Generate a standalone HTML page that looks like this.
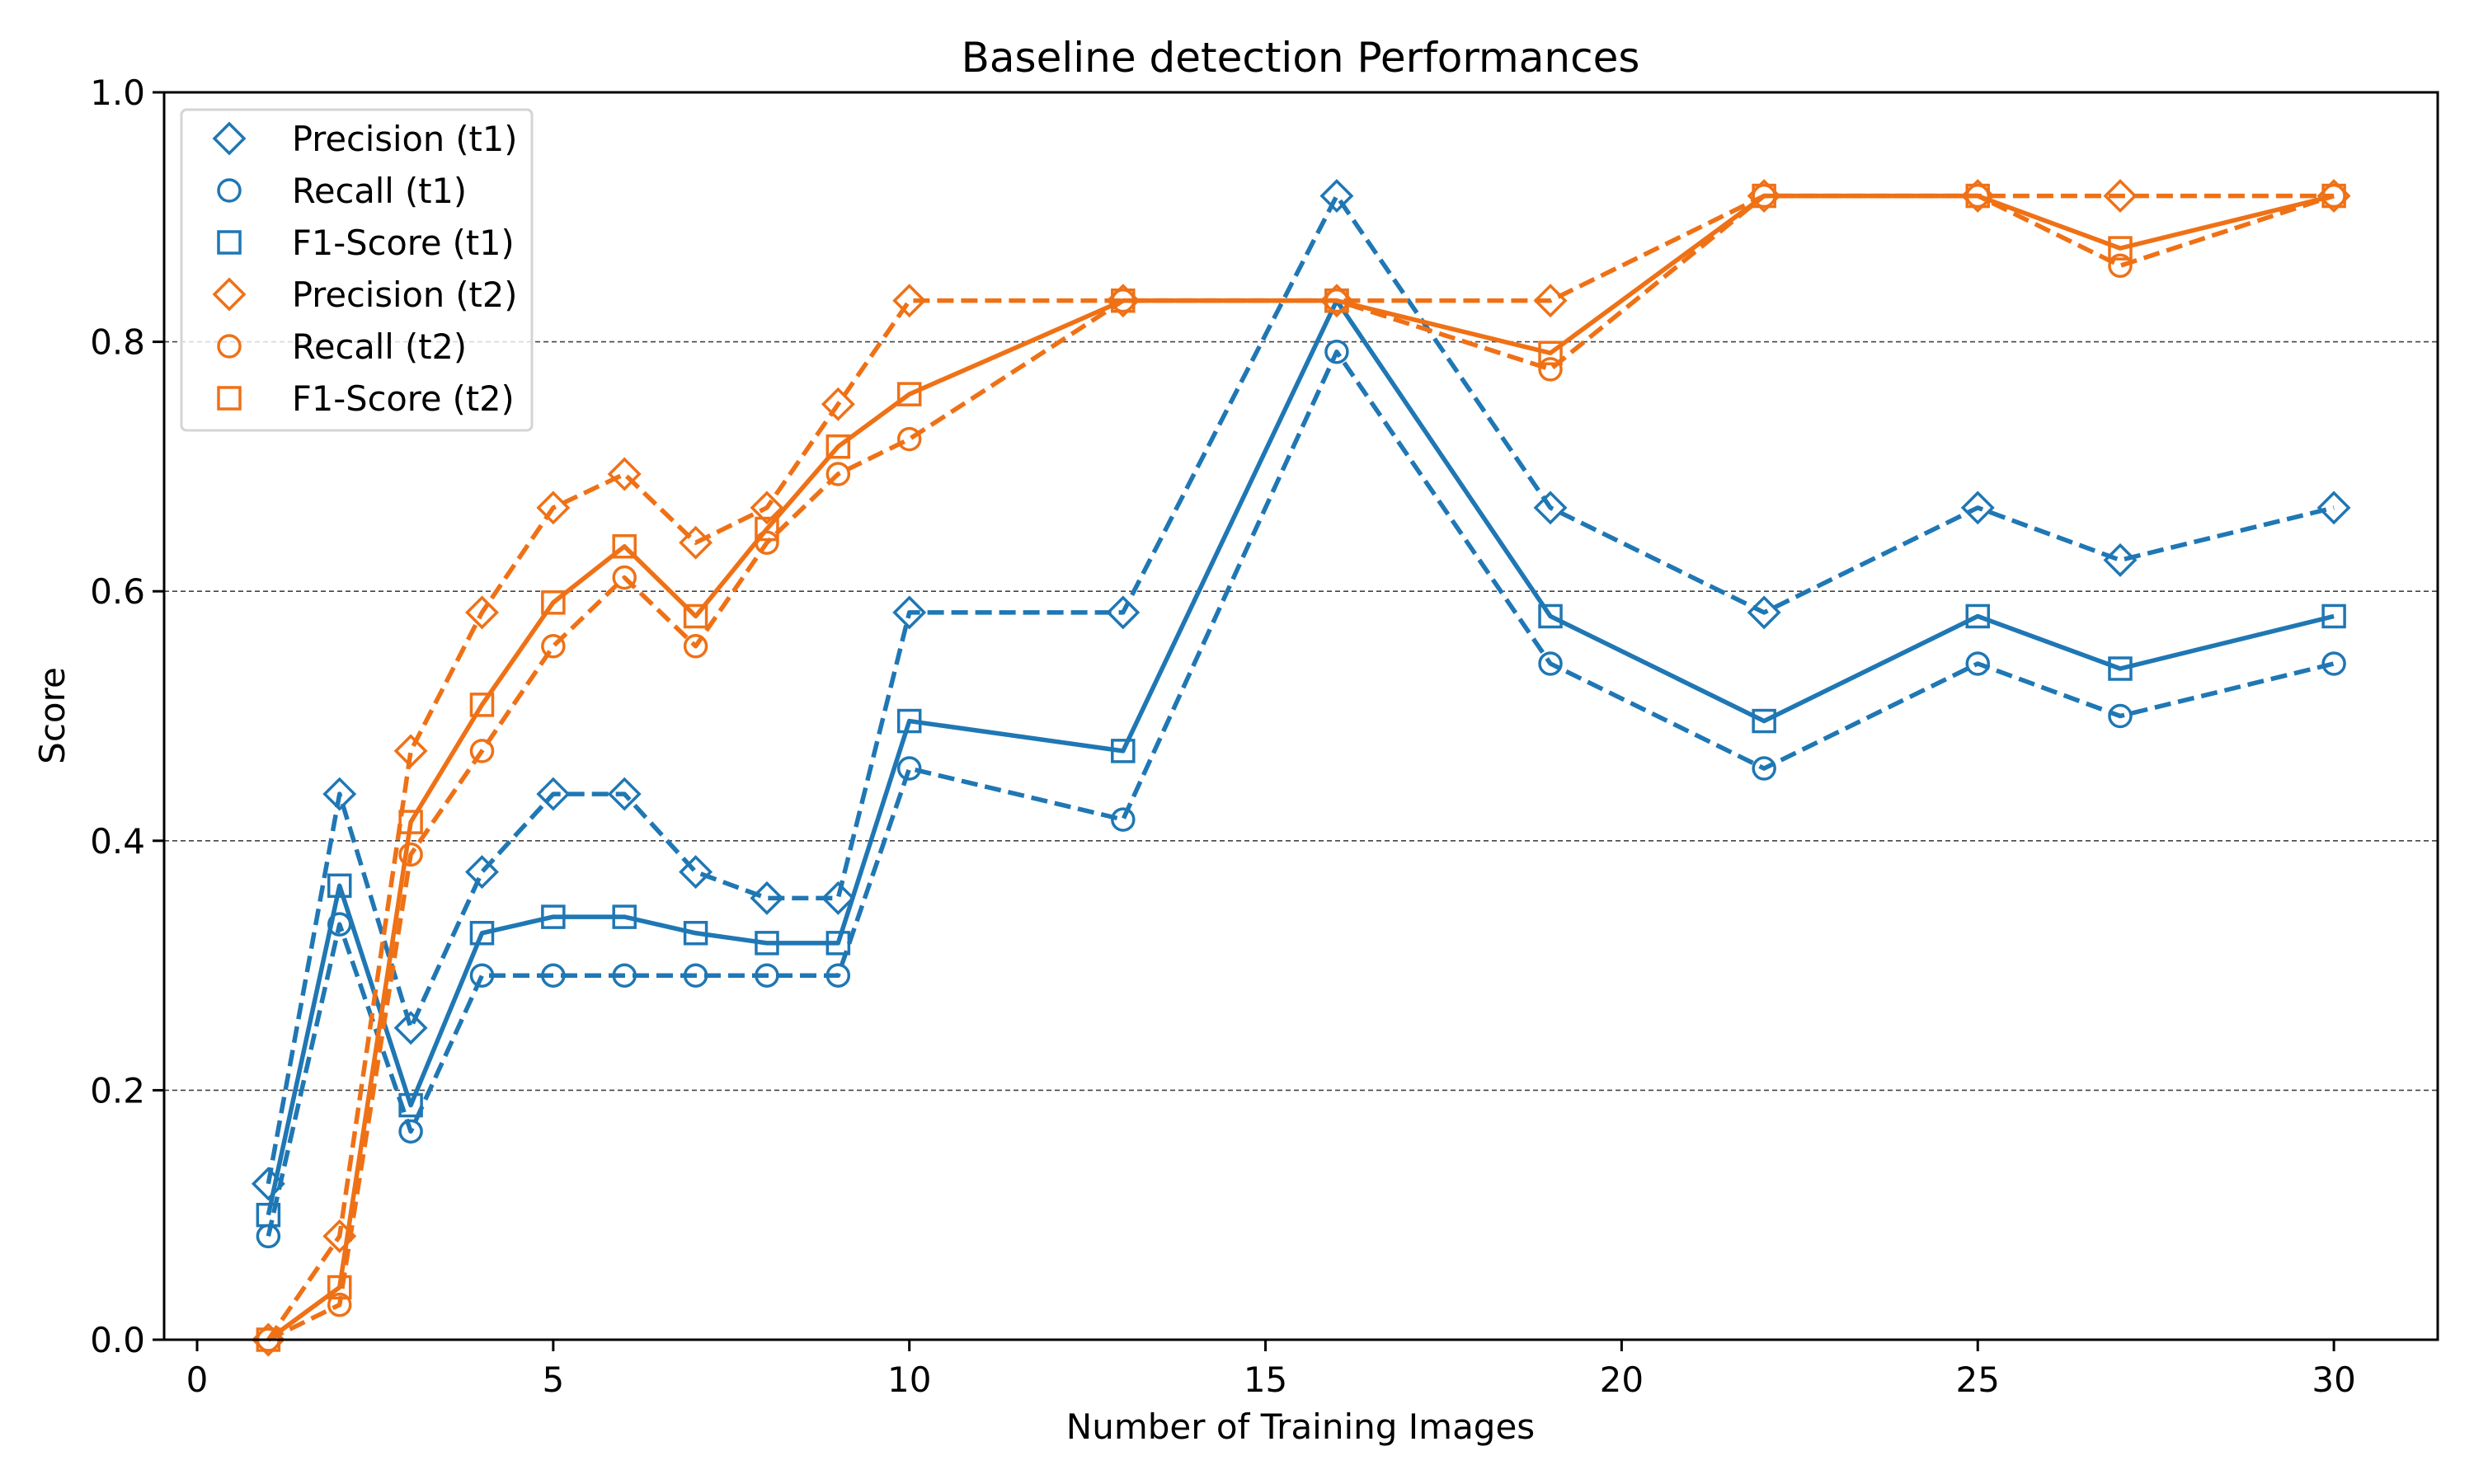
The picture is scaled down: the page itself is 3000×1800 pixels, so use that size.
<!DOCTYPE html>
<html><head><meta charset="utf-8"><style>
html,body{margin:0;padding:0;background:#fff;}
svg{display:block;font-family:"DejaVu Sans","Liberation Sans",sans-serif;}
</style></head><body>
<svg id="chart" width="3000" height="1800" viewBox="0 0 3000 1800">
<rect width="3000" height="1800" fill="#fff"/>
<text x="1577" y="87" font-size="50" text-anchor="middle">Baseline detection Performances</text>
<g id="grid"></g>
<g id="series"></g>
<rect x="199" y="112" width="2757" height="1513" fill="none" stroke="#000" stroke-width="3"/>
<g id="ticks"></g>
<text x="1577" y="1745" font-size="42" text-anchor="middle">Number of Training Images</text>
<text x="78" y="868" font-size="42" text-anchor="middle" transform="rotate(-90 78 868)">Score</text>
<g id="legend"></g>
</svg>
<script>
const xs = [1,2,3,4,5,6,7,8,9,10,13,16,19,22,25,27,30];
const precT1 = [0.125,0.4375,0.25,0.375,0.4375,0.4375,0.375,0.354,0.354,0.583,0.583,0.917,0.667,0.583,0.667,0.625,0.667];
const recT1 = [0.083,0.333,0.167,0.292,0.292,0.292,0.292,0.292,0.292,0.458,0.417,0.792,0.542,0.458,0.542,0.5,0.542];
const f1T1 = [0.1,0.364,0.188,0.326,0.339,0.339,0.326,0.318,0.318,0.496,0.472,0.833,0.58,0.496,0.58,0.538,0.58];
const precT2 = [0,0.083,0.472,0.583,0.667,0.694,0.639,0.667,0.75,0.833,0.833,0.833,0.833,0.917,0.917,0.917,0.917];
const recT2 = [0,0.028,0.389,0.472,0.556,0.611,0.556,0.639,0.694,0.722,0.833,0.833,0.778,0.917,0.917,0.861,0.917];
const f1T2 = [0,0.042,0.415,0.509,0.591,0.636,0.58,0.65,0.716,0.758,0.833,0.833,0.791,0.917,0.917,0.875,0.917];
const xTicks = [0,5,10,15,20,25,30];
const yTicks = [0,0.2,0.4,0.6,0.8,1.0];
const yTickLabels = ["0.0","0.2","0.4","0.6","0.8","1.0"];
const legendLabels = ["Precision (t1)","Recall (t1)","F1-Score (t1)","Precision (t2)","Recall (t2)","F1-Score (t2)"];

const NS="http://www.w3.org/2000/svg";
const BLUE="#1f77b4", ORANGE="#ef7116";
function X(v){return 239+v*86.37;}
function Y(v){return 1625-v*1513;}
function mk(tag,attrs,parent){const e=document.createElementNS(NS,tag);for(const k in attrs)e.setAttribute(k,attrs[k]);parent.appendChild(e);return e;}

const grid=document.getElementById('grid');
[0.2,0.4,0.6,0.8].forEach(v=>{
  const l=mk('line',{x1:199,x2:2956,y1:Y(v),y2:Y(v),stroke:'#444','stroke-width':1.6,'stroke-dasharray':'6 4'},grid);
  
  
});
const ticks=document.getElementById('ticks');
xTicks.forEach(v=>{
  const l=mk('line',{x1:X(v),x2:X(v),y1:1625,y2:1639,stroke:'#000','stroke-width':3},ticks);
  
  
  const t=mk('text',{x:X(v),y:1688,'font-size':42,'text-anchor':'middle'},ticks);
  t.textContent=String(v);
  
  
});
yTicks.forEach((v,i)=>{
  const l=mk('line',{x1:185,x2:199,y1:Y(v),y2:Y(v),stroke:'#000','stroke-width':3},ticks);
  
  
  const t=mk('text',{x:176,y:Y(v)+15,'font-size':42,'text-anchor':'end'},ticks);
  t.textContent=yTickLabels[i];
  
  
});

function marker(type,cx,cy,color,parent){
  let e;
  if(type==='d') e=mk('polygon',{points:`${cx},${cy-18} ${cx+18},${cy} ${cx},${cy+18} ${cx-18},${cy}`},parent);
  else if(type==='o') e=mk('circle',{cx:cx,cy:cy,r:13},parent);
  else e=mk('rect',{x:cx-13,y:cy-13,width:26,height:26},parent);
  e.setAttribute('fill','none');e.setAttribute('stroke',color);e.setAttribute('stroke-width',3.5);
  return e;
}
const series=document.getElementById('series');
const defs=[
  {d:precT1,c:BLUE,m:'d',dash:true,n:'precision-t1'},
  {d:recT1,c:BLUE,m:'o',dash:true,n:'recall-t1'},
  {d:f1T1,c:BLUE,m:'s',dash:false,n:'f1-t1'},
  {d:precT2,c:ORANGE,m:'d',dash:true,n:'precision-t2'},
  {d:recT2,c:ORANGE,m:'o',dash:true,n:'recall-t2'},
  {d:f1T2,c:ORANGE,m:'s',dash:false,n:'f1-t2'}
];
defs.forEach(s=>{
  const g=mk('g',{},series);
  
  
  const pts=xs.map((x,i)=>X(x)+','+Y(s.d[i])).join(' ');
  const pl=mk('polyline',{points:pts,fill:'none',stroke:s.c,'stroke-width':5.5,'stroke-linejoin':'round'},g);
  if(s.dash) pl.setAttribute('stroke-dasharray','20 9');
  
  
  xs.forEach((x,i)=>{
    const e=marker(s.m,X(x),Y(s.d[i]),s.c,g);
    
    
  });
});

const lg=document.getElementById('legend');
const box=mk('rect',{x:220,y:133,width:425,height:389,rx:6,fill:'#fff','fill-opacity':0.8,stroke:'#d4d4d4','stroke-width':3},lg);


legendLabels.forEach((lab,i)=>{
  const cy=168+i*63;
  const s=defs[i];
  const m=marker(s.m,278,cy,s.c,lg);
  
  
  const t=mk('text',{x:354,y:cy+15,'font-size':41.5},lg);
  t.textContent=lab;
  
  
});
</script>
</body></html>
